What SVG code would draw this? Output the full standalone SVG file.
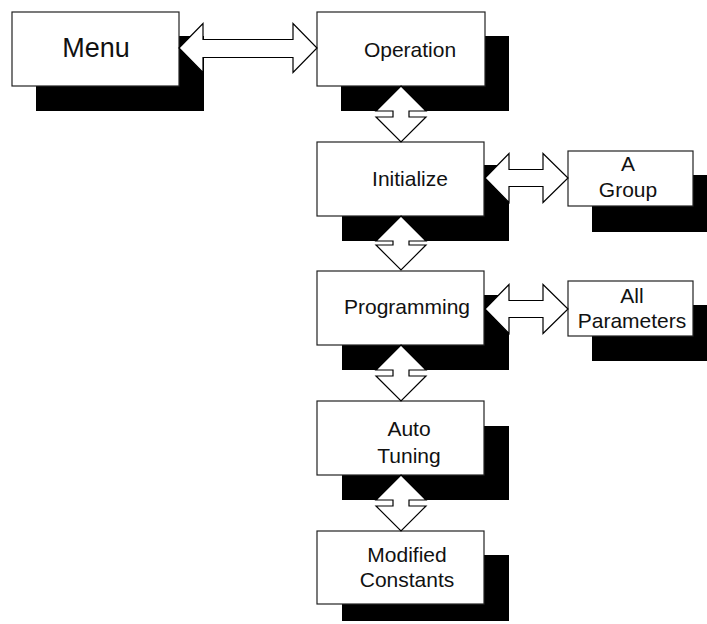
<svg xmlns="http://www.w3.org/2000/svg" width="707" height="624" viewBox="0 0 707 624">
<style>
.sh{fill:#000}
.bx{fill:#fff;stroke:#222;stroke-width:1.2}
.ar{fill:#fff;stroke:#000;stroke-width:1.2;stroke-linejoin:miter}
text{font-family:"Liberation Sans",Arial,sans-serif;font-size:21px;fill:#111;text-anchor:middle}
.big{font-size:27px}
</style>
<rect width="707" height="624" fill="#fff"/>
<g id="node-menu">
<rect class="sh" x="36" y="36" width="168" height="75"/>
<rect class="bx" x="12" y="12" width="167" height="74"/>
<text class="big" x="96" y="57">Menu</text>
</g>
<g id="node-operation">
<rect class="sh" x="341" y="36" width="168" height="75"/>
<rect class="bx" x="317" y="12" width="168" height="74"/>
<text x="410" y="57">Operation</text>
</g>
<g id="node-initialize">
<rect class="sh" x="342" y="165" width="167" height="76"/>
<rect class="bx" x="317" y="142" width="167" height="74"/>
<text x="410" y="186">Initialize</text>
</g>
<g id="node-programming">
<rect class="sh" x="342" y="295" width="167" height="75"/>
<rect class="bx" x="317" y="271" width="167" height="74"/>
<text x="407" y="314">Programming</text>
</g>
<g id="node-autotuning">
<rect class="sh" x="342" y="426" width="167" height="74"/>
<rect class="bx" x="317" y="401" width="167" height="74"/>
<text x="409" y="436">Auto</text>
<text x="409" y="463">Tuning</text>
</g>
<g id="node-modified">
<rect class="sh" x="342" y="555" width="167" height="66"/>
<rect class="bx" x="317" y="531" width="167" height="73"/>
<text x="407" y="562">Modified</text>
<text x="407" y="587">Constants</text>
</g>
<g id="node-agroup">
<rect class="sh" x="592" y="175" width="125" height="57"/>
<rect class="bx" x="568" y="151" width="125" height="55"/>
<text x="628" y="171">A</text>
<text x="628" y="197">Group</text>
</g>
<g id="node-allparams">
<rect class="sh" x="592" y="305" width="125" height="56"/>
<rect class="bx" x="568" y="281" width="125" height="55"/>
<text x="632" y="303">All</text>
<text x="632" y="328">Parameters</text>
</g>
<g id="connectors">
<polygon class="ar" points="179,48 203,23.5 203,39.5 293,39.5 293,23.5 317,48 293,72.5 293,57.5 203,57.5 203,72.5"/>
<polygon class="ar" points="485,178 509,153.5 509,169.5 543,169.5 543,153.5 568,178 543,202.5 543,186.5 509,186.5 509,202.5"/>
<polygon class="ar" points="485,309 509,284.5 509,300.5 543,300.5 543,284.5 568,309 543,333.5 543,317.5 509,317.5 509,333.5"/>
<polygon class="ar" points="401,86 426,111 409,111 409,117 426,117 401,142 376,117 393,117 393,111 376,111"/>
<polygon class="ar" points="401,216 426,241 409,241 409,245 426,245 401,270 376,245 393,245 393,241 376,241"/>
<polygon class="ar" points="401,345 426,370 409,370 409,376 426,376 401,401 376,376 393,376 393,370 376,370"/>
<polygon class="ar" points="401,475 426,500 409,500 409,506 426,506 401,531 376,506 393,506 393,500 376,500"/>
</g>
</svg>
